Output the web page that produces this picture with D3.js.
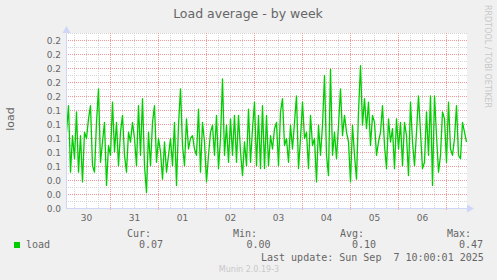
<!DOCTYPE html>
<html>
<head>
<meta charset="utf-8">
<script src="https://cdn.jsdelivr.net/npm/d3@7"></script>
<style>
  body { margin: 0; background: #f0f0f0; }
  svg { display: block; }
</style>
</head>
<body>
<svg id="chart" width="497" height="280"></svg>
<script>
// hourly load averages, Aug 30 02:00 -> Sep 7 10:00 (UTC)
const startTime = Date.UTC(2025, 7, 30, 2);
const endTime = Date.UTC(2025, 8, 7, 10);
const stepHours = 1;
const load = [
  0.109,0.147,0.052,0.104,0.071,0.138,0.052,0.104,0.038,0.109,0.100,0.128,0.147,0.061,0.052,0.123,0.171,0.066,0.095,0.123,0.033,0.090,0.076,0.152,0.081,0.123,0.061,0.109,0.133,0.076,0.052,0.109,0.095,0.123,0.100,
  0.061,0.147,0.076,0.157,0.061,0.023,0.109,0.061,0.123,0.147,0.066,0.100,0.081,0.042,0.095,0.052,0.076,0.100,0.061,0.123,0.033,0.119,0.171,0.090,0.061,0.128,0.085,0.100,0.104,0.085,0.076,0.142,0.052,0.123,
  0.095,0.038,0.076,0.109,0.119,0.076,0.133,0.057,0.100,0.185,0.076,0.119,0.066,0.128,0.076,0.133,0.066,0.133,0.081,0.047,0.095,0.061,0.142,0.066,0.114,0.152,0.061,0.133,0.057,0.147,0.057,0.133,0.061,0.104,
  0.085,0.114,0.123,0.061,0.138,0.157,0.090,0.100,0.066,0.119,0.085,0.123,0.161,0.057,0.100,0.152,0.100,0.109,0.057,0.133,0.090,0.100,0.038,0.119,0.076,0.119,0.190,0.076,0.047,0.199,0.076,0.109,0.071,0.119,
  0.171,0.104,0.133,0.109,0.095,0.038,0.119,0.076,0.042,0.138,0.204,0.119,0.157,0.114,0.152,0.090,0.133,0.123,0.076,0.095,0.109,0.147,0.090,0.057,0.128,0.095,0.114,0.057,0.128,0.085,0.123,0.061,0.123,0.104,
  0.047,0.152,0.095,0.061,0.109,0.161,0.109,0.057,0.066,0.138,0.076,0.161,0.033,0.161,0.104,0.052,0.076,0.138,0.128,0.066,0.152,0.085,0.076,0.100,0.147,0.076,0.071,0.123,0.109,0.095
];
const yTicks = [0, 0.02, 0.04, 0.06, 0.08, 0.10, 0.12, 0.14, 0.16, 0.18, 0.20, 0.22, 0.24];
const legendStats = [
  {label: "Cur:", value: "0.07"},
  {label: "Min:", value: "0.00"},
  {label: "Avg:", value: "0.10"},
  {label: "Max:", value: "0.47"}
];
const lastUpdate = "Last update: Sun Sep  7 10:00:01 2025";

var svg = d3.select("#chart"),
    pLeft = 66, pRight = 467, pTop = 33, pBottom = 208;

svg.append("rect").attr("width", 497).attr("height", 280).attr("fill", "#f0f0f0");
svg.append("rect")
  .attr("x", pLeft).attr("y", pTop)
  .attr("width", pRight - pLeft).attr("height", pBottom - pTop)
  .attr("fill", "#fff");

var x = d3.scaleUtc()
    .domain([startTime, endTime])
    .range([pLeft + 0.5, pLeft + 400.5]);

var y = d3.scaleLinear()
    .domain([0, 0.25])
    .range([pBottom + 0.5, pTop + 0.5]);

var data = load.map((v, i) => ({t: new Date(startTime + i * stepHours * 3600e3), v: v}));

// grid
var g = svg.append("g");
var sixHours = d3.utcHour.every(6).range(new Date(startTime), new Date(endTime));
g.selectAll(".vminor")
  .data(sixHours.filter(d => d.getUTCHours() !== 0))
  .join("line")
  .attr("x1", d => Math.round(x(d) - 0.5) + 0.5).attr("x2", d => Math.round(x(d) - 0.5) + 0.5)
  .attr("y1", pTop).attr("y2", pBottom + 1)
  .attr("stroke", "#d4d4d4").attr("stroke-dasharray", "1,1");

var hMinor = d3.range(1, 26, 2).map(d => d / 100);
g.selectAll(".hminor")
  .data(hMinor)
  .join("line")
  .attr("x1", pLeft).attr("x2", pRight)
  .attr("y1", d => y(d)).attr("y2", d => y(d))
  .attr("stroke", "#d4d4d4").attr("stroke-dasharray", "1,1");

g.selectAll(".hmajor")
  .data(yTicks.slice(1))
  .join("line")
  .attr("x1", pLeft).attr("x2", pRight)
  .attr("y1", d => y(d)).attr("y2", d => y(d))
  .attr("stroke", "#f29a9a").attr("stroke-dasharray", "1,1");

var days = d3.utcDay.range(new Date(startTime), new Date(endTime));
g.selectAll(".vmajor")
  .data(days)
  .join("line")
  .attr("x1", d => Math.round(x(d) - 0.5) + 0.5).attr("x2", d => Math.round(x(d) - 0.5) + 0.5)
  .attr("y1", pTop).attr("y2", pBottom + 3)
  .attr("stroke", "#f29a9a").attr("stroke-dasharray", "1,1");

// data line
svg.append("clipPath").attr("id", "clip")
  .append("rect").attr("x", pLeft).attr("y", pTop).attr("width", pRight - pLeft).attr("height", pBottom - pTop);

var line = d3.line()
    .x(d => x(d.t))
    .y(d => y(d.v));

svg.append("path")
  .datum(data)
  .attr("clip-path", "url(#clip)")
  .attr("fill", "none")
  .attr("stroke", "#00cc00")
  .attr("stroke-width", 1.3)
  .attr("stroke-linejoin", "round")
  .attr("d", line);

// axes
var axisCol = "#cfd6f8";
svg.append("line").attr("x1", pLeft + 0.5).attr("x2", pLeft + 0.5).attr("y1", pBottom + 0.5).attr("y2", 28)
  .attr("stroke", axisCol);
svg.append("line").attr("x1", pLeft).attr("x2", 472).attr("y1", pBottom + 0.5).attr("y2", pBottom + 0.5)
  .attr("stroke", axisCol);
svg.append("path").attr("d", "M62.5,33 L66.5,26 L70.5,33 Z").attr("fill", axisCol);
svg.append("path").attr("d", "M467,204.5 L474,208.5 L467,212.5 Z").attr("fill", axisCol);

// y tick labels
svg.append("g")
  .selectAll("text")
  .data(yTicks)
  .join("text")
  .attr("x", 61).attr("y", d => y(d))
  .attr("dy", "0.35em")
  .attr("text-anchor", "end")
  .attr("font-family", "DejaVu Sans")
  .attr("font-size", 9)
  .attr("fill", "#666")
  .text(d => d3.format(".1f")(d));

// x tick labels at noon
svg.append("g")
  .selectAll("text")
  .data(days.map(d => d3.utcHour.offset(d, -12)))
  .join("text")
  .attr("x", d => x(d)).attr("y", 221)
  .attr("text-anchor", "middle")
  .attr("font-family", "DejaVu Sans")
  .attr("font-size", 9)
  .attr("fill", "#666")
  .text(d3.utcFormat("%d"));

// titles
svg.append("text")
  .attr("x", 248).attr("y", 18)
  .attr("text-anchor", "middle")
  .attr("font-family", "DejaVu Sans")
  .attr("font-size", 12.5)
  .attr("fill", "#666")
  .text("Load average - by week");

svg.append("text")
  .attr("transform", "translate(14,119) rotate(-90)")
  .attr("text-anchor", "middle")
  .attr("font-family", "DejaVu Sans")
  .attr("font-size", 11)
  .attr("fill", "#666")
  .text("load");

svg.append("text")
  .attr("transform", "translate(485,5) rotate(90)")
  .attr("font-family", "DejaVu Sans")
  .attr("font-size", 8)
  .attr("fill", "#c8c8c8")
  .text("RRDTOOL / TOBI OETIKER");

// legend
var mono = "DejaVu Sans Mono";
svg.append("rect").attr("x", 14).attr("y", 242).attr("width", 6).attr("height", 6).attr("fill", "#00cc00");
svg.append("text").attr("x", 26).attr("y", 248)
  .attr("font-family", mono).attr("font-size", 10).attr("fill", "#666")
  .text("load");

var labelX = [127, 233, 340, 447];
var valueX = [139, 246.5, 352, 459];
var leg = svg.append("g").attr("font-family", mono).attr("font-size", 10).attr("fill", "#666");
leg.selectAll(".lab").data(legendStats).join("text")
  .attr("x", (d, i) => labelX[i]).attr("y", 236.5)
  .text(d => d.label);
leg.selectAll(".val").data(legendStats).join("text")
  .attr("x", (d, i) => valueX[i]).attr("y", 248)
  .text(d => d.value);
leg.append("text").attr("x", 261).attr("y", 260.5)
  .attr("xml:space", "preserve").style("white-space", "pre")
  .text(lastUpdate);

svg.append("text")
  .attr("x", 249).attr("y", 272)
  .attr("text-anchor", "middle")
  .attr("font-family", "DejaVu Sans")
  .attr("font-size", 8)
  .attr("fill", "#c8c8c8")
  .text("Munin 2.0.19-3");
</script>
</body>
</html>
